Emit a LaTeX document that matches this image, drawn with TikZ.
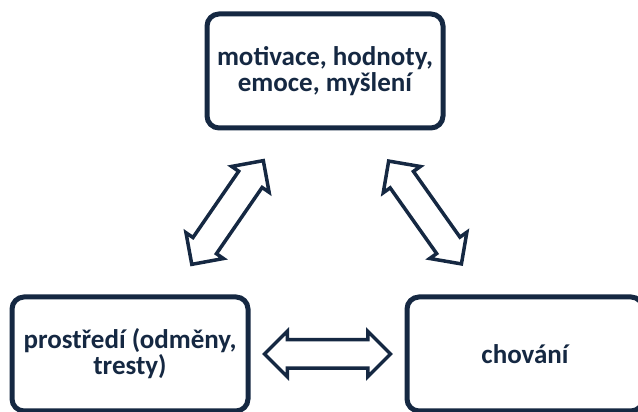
\documentclass[tikz,border=0pt]{standalone}
\usepackage{fontspec}
\setmainfont{Carlito}
\usetikzlibrary{shapes.arrows}
\definecolor{navy}{RGB}{21,40,66}
\tikzstyle{box} = [rectangle, rounded corners=12pt, minimum width=236pt, minimum height=114pt, align=center, draw=navy, line width=5pt, text=navy, font=\bfseries\fontsize{27}{26}\selectfont]
\tikzstyle{link} = [double arrow, draw=navy, line width=3.5pt, minimum height=126pt, double arrow head extend=8.5pt, inner xsep=0pt, inner ysep=12.5pt]

\begin{document}
\begin{tikzpicture}[x=1pt, y=1pt, node distance=283pt]
\useasboundingbox (0,0) rectangle (638,412);

\node (thoughts) [box] at (325,341) {motivace, hodnoty,\\emoce, myšlení};
\node (env) [box, below of=thoughts, xshift=-195pt] {prostředí (odměny,\\tresty)};
\node (behaviour) [box, right of=env, xshift=112pt] {chování};

\path (env) -- (thoughts) node [link, midway, sloped] {};
\path (thoughts) -- (behaviour) node [link, midway, sloped] {};
\path (env) -- (behaviour) node [link, midway, sloped] {};

\end{tikzpicture}
\end{document}
